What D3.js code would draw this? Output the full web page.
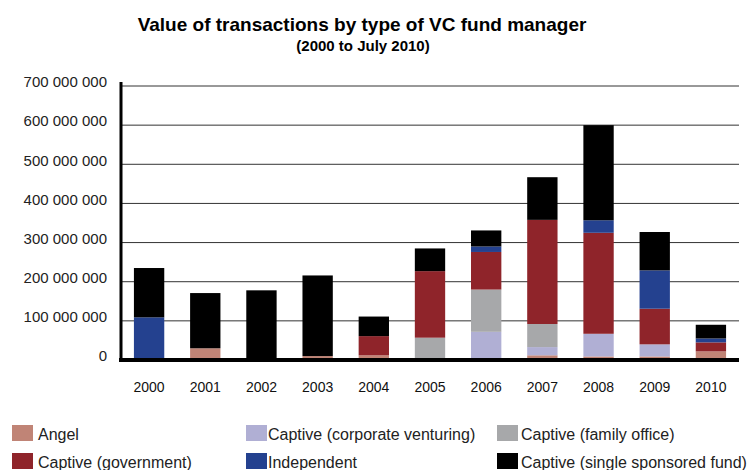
<!DOCTYPE html>
<html>
<head>
<meta charset="utf-8">
<script src="https://cdn.jsdelivr.net/npm/d3@7"></script>
<style>
  body { margin: 0; background: #fff; }
  text { font-family: "Liberation Sans", Arial, sans-serif; }
</style>
</head>
<body>
<svg id="chart" width="749" height="470"></svg>
<script>
// values in millions
const years = ["2000", "2001", "2002", "2003", "2004", "2005", "2006", "2007", "2008", "2009", "2010"];
const angel       = [0, 30, 0, 10, 12, 4, 0, 12, 9, 9, 22];
const corporate   = [0, 0, 0, 0, 0, 0, 72, 21, 58, 31, 0];
const family      = [0, 0, 0, 0, 0, 53, 108, 59, 0, 0, 0];
const government  = [0, 0, 0, 0, 49, 170, 96, 266, 258, 91, 23];
const independent = [109, 0, 0, 0, 0, 0, 14, 0, 32, 98, 10];
const single      = [126, 141, 178, 206, 50, 58, 41, 109, 243, 98, 35];
const yTicks = [0, 100, 200, 300, 400, 500, 600, 700];

const seriesNames = ["Angel", "Captive (corporate venturing)", "Captive (family office)",
                     "Captive (government)", "Independent", "Captive (single sponsored fund)"];
const seriesValues = [angel, corporate, family, government, independent, single];
const colors = ["#c08476", "#b0afd4", "#a7a8aa", "#8f242a", "#24418f", "#000000"];

// one row per year for d3.stack
const rows = years.map((y, i) => {
    let r = {year: y};
    seriesNames.forEach((s, j) => { r[s] = seriesValues[j][i]; });
    return r;
});

const svg = d3.select("#chart");

const x = d3.scaleBand()
    .domain(years)
    .range([121, 739])
    .paddingInner(0.46)
    .paddingOuter(0.23);

const y = d3.scaleLinear()
    .domain([0, 700])
    .range([360, 86]);

const fmt = d3.formatLocale({decimal: ".", thousands: " ", grouping: [3], currency: ["", ""]}).format(",");

// title
svg.append("text")
    .attr("x", 362).attr("y", 31)
    .attr("text-anchor", "middle")
    .style("font-size", "19px").style("font-weight", "bold")
    .text("Value of transactions by type of VC fund manager");
svg.append("text")
    .attr("x", 363).attr("y", 51)
    .attr("text-anchor", "middle")
    .style("font-size", "15px").style("font-weight", "bold")
    .text("(2000 to July 2010)");

// gridlines
svg.append("g")
    .selectAll("line")
    .data(yTicks.filter(d => d > 0))
    .join("line")
    .attr("x1", 121).attr("x2", 739)
    .attr("y1", d => y(d)).attr("y2", d => y(d))
    .attr("stroke", "#333").attr("stroke-width", 1);

// stacked bars
const stacked = d3.stack().keys(seriesNames)(rows);

svg.append("g")
    .selectAll("g")
    .data(stacked)
    .join("g")
    .attr("fill", (d, i) => colors[i])
    .selectAll("rect")
    .data(d => d.filter(p => p[1] > p[0]))
    .join("rect")
    .attr("x", d => x(d.data.year))
    .attr("width", x.bandwidth())
    .attr("y", d => y(d[1]))
    .attr("height", d => y(d[0]) - y(d[1]));

// y axis
const yAxis = svg.append("g")
    .attr("transform", "translate(121,0)")
    .call(d3.axisLeft(y).tickValues(yTicks).tickSize(0).tickPadding(14)
        .tickFormat(d => fmt(d * 1000000)));
yAxis.select(".domain").remove();
yAxis.selectAll("text")
    .attr("dy", "0.05em")
    .attr("fill", "#222")
    .style("font-size", "15px");

svg.append("line")
    .attr("x1", 121).attr("x2", 121)
    .attr("y1", 82).attr("y2", 362)
    .attr("stroke", "#000").attr("stroke-width", 3);

// x axis
svg.append("line")
    .attr("x1", 119).attr("x2", 739)
    .attr("y1", 360).attr("y2", 360)
    .attr("stroke", "#000").attr("stroke-width", 4);

const xAxis = svg.append("g")
    .attr("transform", "translate(0,382)")
    .call(d3.axisBottom(x).tickSize(0).tickPadding(0));
xAxis.select(".domain").remove();
xAxis.selectAll("text")
    .attr("fill", "#111")
    .style("font-size", "14px");

// legend
const legendCols = [[12, 38], [246, 268], [497, 521]];
const legend = svg.append("g")
    .selectAll("g")
    .data(seriesNames)
    .join("g")
    .attr("transform", (d, i) => "translate(0," + (Math.floor(i / 3) * 28) + ")");

legend.append("rect")
    .attr("x", (d, i) => legendCols[i % 3][0])
    .attr("y", 425)
    .attr("width", 21).attr("height", 16)
    .attr("fill", (d, i) => colors[i]);

legend.append("text")
    .attr("x", (d, i) => legendCols[i % 3][1])
    .attr("y", 440)
    .attr("fill", "#222")
    .style("font-size", "16px")
    .text(d => d);
</script>
</body>
</html>
